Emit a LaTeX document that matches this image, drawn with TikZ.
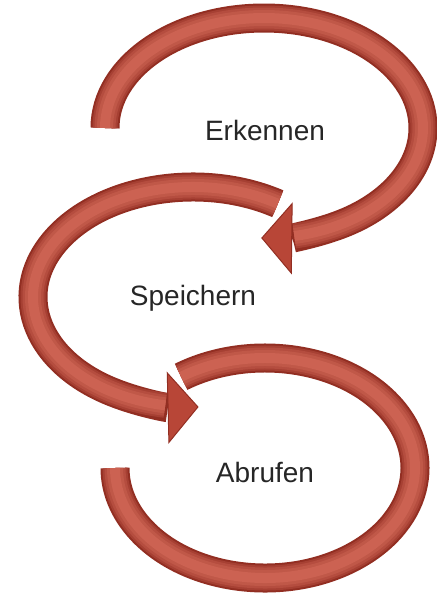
\documentclass[tikz,border=0pt]{standalone}
\usepackage{fontspec}
\setmainfont{Liberation Sans}
\usetikzlibrary{arrows.meta}
\usepackage{xcolor}
\definecolor{bandDark}{RGB}{146,46,34}
\definecolor{bandRed}{RGB}{184,70,55}
\definecolor{bandLight}{RGB}{204,98,82}

\begin{document}
\begin{tikzpicture}[x=1pt, y=-1pt]
    \tikzstyle{band} = [line width=29pt, draw=bandDark]
    \tikzstyle{head} = [-{Triangle[length=31pt, width=72pt, line width=1pt, fill=bandRed]}]
    \tikzstyle{phase} = [font=\fontsize{28}{34}\selectfont, text=black!85]

    \useasboundingbox (0,0) rectangle (437,598);

    % Abrufen-Bogen (unten, ohne Spitze)
    \draw[band] (265,468) ++(236:150 and 110) arc[start angle=236, end angle=540, x radius=150, y radius=110];
    \foreach \w/\c in {25/35, 21/60, 16/80, 10/100}
        \draw[line width=\w pt, draw=bandLight!\c!bandDark] (265,468) ++(236:150 and 110) arc[start angle=236, end angle=540, x radius=150, y radius=110];

    % Speichern-Bogen (Mitte)
    \draw[band, head] (193,297) ++(302:160 and 110) arc[start angle=302, end angle=88, x radius=160, y radius=110];
    \foreach \w/\c in {25/35, 21/60, 16/80, 10/100}
        \draw[line width=\w pt, draw=bandLight!\c!bandDark] (193,297) ++(302:160 and 110) arc[start angle=302, end angle=100, x radius=160, y radius=110];

    % Erkennen-Bogen (oben)
    \draw[band, head] (264,128) ++(180:159 and 110) arc[start angle=180, end angle=451, x radius=159, y radius=110];
    \foreach \w/\c in {25/35, 21/60, 16/80, 10/100}
        \draw[line width=\w pt, draw=bandLight!\c!bandDark] (264,128) ++(180:159 and 110) arc[start angle=180, end angle=439, x radius=159, y radius=110];

    % Beschriftungen
    \node[phase] (erkennen) at (265,130) {Erkennen};
    \node[phase] (speichern) at (193,298) {Speichern};
    \node[phase] (abrufen) at (265,472) {Abrufen};
\end{tikzpicture}
\end{document}
